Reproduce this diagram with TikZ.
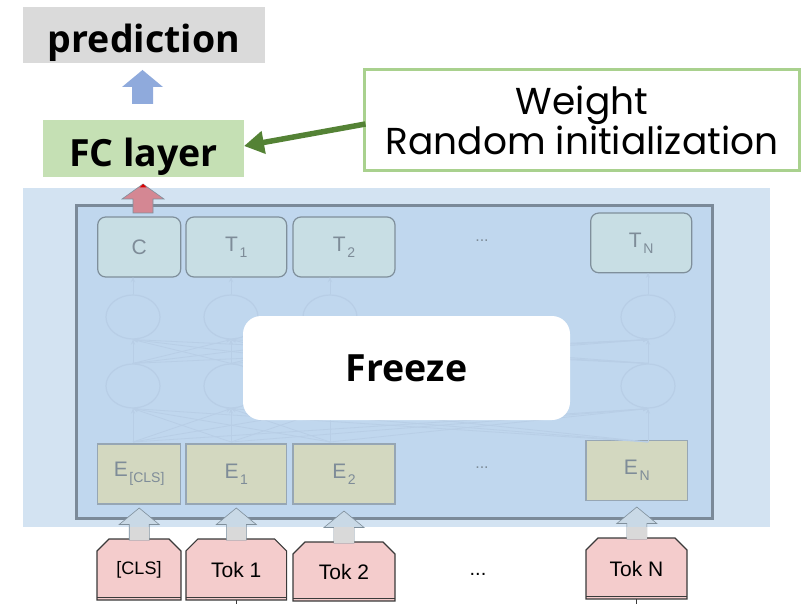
\documentclass[tikz,border=0pt]{standalone}
\usepackage{fontspec}
\setmainfont{Open Sans}
\newfontfamily\boxfont{Liberation Sans}
\newfontfamily\notefont{Poppins}
\usetikzlibrary{arrows.meta,shapes.misc,shapes.geometric,calc}

\definecolor{predgray}{HTML}{DADADA}
\definecolor{fcgreen}{HTML}{C5E0B4}
\definecolor{notegreen}{HTML}{A9D18E}
\definecolor{arrowgreen}{HTML}{548235}
\definecolor{arrowblue}{HTML}{8FAADC}
\definecolor{panelblue}{HTML}{D3E3F2}
\definecolor{innerblue}{HTML}{C0D7EE}
\definecolor{innerline}{HTML}{7B8A99}
\definecolor{outfill}{HTML}{C8DEE4}
\definecolor{outline}{HTML}{7F8F9B}
\definecolor{embfill}{HTML}{D3D8C0}
\definecolor{embline}{HTML}{96A6B4}
\definecolor{boxtext}{HTML}{7E8C98}
\definecolor{tokfill}{HTML}{F4CCCC}
\definecolor{tokline}{HTML}{3A3A3A}
\definecolor{pinkarrow}{HTML}{D48793}
\definecolor{inarrow}{HTML}{C9D9E6}
\definecolor{inshaft}{HTML}{D9D9D9}
\definecolor{netline}{HTML}{B8CEE6}

\newcommand\lowidx[1]{\kern1.5pt\raisebox{-6pt}{\fontsize{14}{14}\selectfont #1}}

\tikzset{
  flat/.style={rectangle, inner sep=0pt, outer sep=0pt},
  bigbold/.style={font=\bfseries\fontsize{37.5}{37.5}\selectfont, text depth=0pt},
  outbox/.style={flat, rounded corners=8pt, draw=outline, line width=1.2pt, fill=outfill,
    text=boxtext, font=\boxfont\fontsize{21}{21}\selectfont},
  embbox/.style={flat, draw=embline, line width=1.2pt, fill=embfill,
    text=boxtext, font=\boxfont\fontsize{21}{21}\selectfont},
  tokbox/.style={chamfered rectangle, chamfered rectangle corners={north west,north east},
    chamfered rectangle xsep=6pt, chamfered rectangle ysep=6pt, inner sep=0pt, outer sep=0pt,
    draw=tokline, line width=1.1pt, fill=tokfill, font=\boxfont\fontsize{21}{21}\selectfont},
  netcell/.style={ellipse, draw=netline, line width=1.2pt, inner sep=0pt,
    minimum width=54pt, minimum height=44pt},
  netedge/.style={draw=netline, line width=0.8pt, -{Stealth[length=5pt,width=4pt]}},
  pics/uparrow/.style args={#1/#2/#3/#4}{code={
    \path[pic actions] (-#1,0) -- (-#1,{-(#3-#4)}) -- (-#2,{-(#3-#4)}) -- (0,-#3)
      -- (#2,{-(#3-#4)}) -- (#1,{-(#3-#4)}) -- (#1,0) -- cycle;}}
}

\begin{document}
\begin{tikzpicture}[x=1pt,y=-1pt]
\useasboundingbox (0,0) rectangle (803,604);

% output head
\node[flat, fill=predgray, minimum width=242pt, minimum height=56pt, bigbold, text height=36pt] (pred) at (144,35) {prediction};
\node[flat, fill=fcgreen, minimum width=201pt, minimum height=57pt, bigbold, text height=37pt] (fc) at (143.5,148.5) {FC layer};
\pic[fill=arrowblue] at ($(fc.north)+(-1,-16)$) {uparrow=10.5/20.5/34/17};

% note on the new weights
\node[flat, draw=notegreen, line width=3pt, fill=white, minimum width=435pt, minimum height=101pt,
  align=center, font=\notefont\fontsize{37.5}{40}\selectfont] (note) at (582,120)
  {Weight\\Random initialization};
\draw[arrowgreen, line width=5.5pt, -{Triangle[length=20pt,width=22pt]}]
  ($(note.west)+(1,4)$) -- (fc.east |- 0,146);

% encoder panel
\node[flat, fill=panelblue, minimum width=747pt, minimum height=339pt] (panel) at (396.5,357.5) {};
\node[flat, draw=innerline, line width=3pt, fill=innerblue, minimum width=636pt, minimum height=313pt] (enc) at (394.5,361.75) {};

% output token boxes
\node[outbox, minimum width=83pt, minimum height=60pt] (oc) at (139.2,247) {C};
\node[outbox, minimum width=100.7pt, minimum height=60pt] (o1) at (236.3,247) {T\lowidx{1}};
\node[outbox, minimum width=102pt, minimum height=60pt] (o2) at (344,247) {T\lowidx{2}};
\node[outbox, minimum width=101pt, minimum height=59.7pt] (on) at (641.2,242.9) {T\lowidx{N}};
\node[text=boxtext, font=\boxfont\fontsize{16}{16}\selectfont] (odots) at (482,241) {...};

% embedding boxes
\node[embbox, minimum width=83pt, minimum height=60pt] (ec) at (139.2,474) {E\lowidx{[CLS]}};
\node[embbox, minimum width=100.7pt, minimum height=60pt] (e1) at (236.3,474) {E\lowidx{1}};
\node[embbox, minimum width=102pt, minimum height=60pt] (e2) at (344,474) {E\lowidx{2}};
\node[embbox, minimum width=101.7pt, minimum height=60pt] (en) at (636.8,470.7) {E\lowidx{N}};
\node[text=boxtext, font=\boxfont\fontsize{16}{16}\selectfont] (edots) at (482,468) {...};

% faint transformer cells
\foreach \i/\x in {1/133,2/231,3/330,4/648}{
  \node[netcell] (lo\i) at (\x,386) {};
  \node[netcell] (up\i) at (\x,317) {};
  \coordinate (bs\i) at (\x,442);
}
\foreach \i in {1,2,3,4}{
  \foreach \j in {1,2,3,4}{
    \draw[netedge] (bs\i) -- (lo\j.south);
    \draw[netedge] (lo\i.north) -- (up\j.south);
  }
}
\draw[netedge] (up1.north) -- (oc.south -| up1.north);
\draw[netedge] (up2.north) -- (o1.south -| up2.north);
\draw[netedge] (up3.north) -- (o2.south -| up3.north);
\draw[netedge] (up4.north) -- (on.south -| up4.north);

% frozen encoder label
\node[flat, fill=white, rounded corners=18pt, minimum width=327pt, minimum height=104pt, bigbold, text height=27.5pt] (freeze) at (406.5,368) {Freeze};

% arrow from the encoder into the FC layer
\pic[fill=pinkarrow, draw=outline, line width=0.6pt] at ($(oc.north)+(3.8,-4)$) {uparrow=10/21/29/15};
\fill[red!85!black] ($(oc.north)+(3.8,-33)$) -- ++(-3.5,3.5) -- ++(7,0) -- cycle;

% input tokens
\node[tokbox, minimum width=84pt, minimum height=61pt, font=\boxfont\fontsize{18}{18}\selectfont] (tc) at (139,569.5) {[CLS]};
\node[tokbox, minimum width=100.7pt, minimum height=61pt] (t1) at (236.3,569.5) {Tok 1};
\node[tokbox, minimum width=102pt, minimum height=59pt] (t2) at (344,571.5) {Tok 2};
\node[tokbox, minimum width=101pt, minimum height=61pt] (tn) at (636.5,568.5) {Tok N};
\node[font=\boxfont\fontsize{20}{20}\selectfont] (tdots) at (478,574) {...};
\foreach \t in {tc,t1,t2,tn}{
  \draw[tokline, line width=0.8pt] ($(\t.south west)+(0,-2.5)$) -- ($(\t.south east)+(0,-2.5)$);
}
\draw[tokline, line width=1pt] (t1.south) -- ++(0,6);
\draw[tokline, line width=1pt] (tn.south) -- ++(0,6);

% arrows from tokens to embeddings
\foreach \t/\e in {tc/ec,t1/e1,t2/e2,tn/en}{
  \path let \p1=(\e.south), \p2=(\t.north) in
    coordinate (base) at (\x1,\y2-1);
  \pic[fill=inarrow, draw=outline, line width=0.6pt] at (base) {uparrow=10/20/32/16.5};
  \path[fill=inshaft] ($(base)+(-9.7,-0.3)$) rectangle ($(base |- panel.south)+(9.7,0)$);
}
\end{tikzpicture}
\end{document}
